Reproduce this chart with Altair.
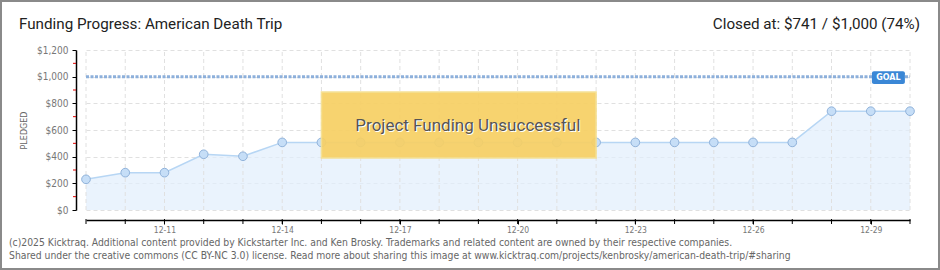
import altair as alt
import pandas as pd

# ---- data ----
days = list(range(9, 31))
pledged = [230, 280, 280, 418, 403, 507, 507, 507, 507, 507, 507, 507, 507, 507,
           507, 507, 507, 507, 507, 741, 741, 741]
label_days = [11, 14, 17, 20, 23, 26, 29]
y_major = [0, 200, 400, 600, 800, 1000, 1200]
y_minor = [100, 300, 500, 700, 900, 1100]
goal = 1000
title_text = "Funding Progress: American Death Trip"
closed_text = "Closed at:  $741 /  $1,000 (74%)"
banner_text = "Project Funding Unsuccessful"
footer1 = ("(c)2025 Kicktraq. Additional content provided by Kickstarter Inc. and Ken Brosky. "
           "Trademarks and related content are owned by their respective companies.")
footer2 = ("Shared under the creative commons (CC BY-NC 3.0) license. Read more about sharing "
           "this image at www.kicktraq.com/projects/kenbrosky/american-death-trip/#sharing")

df = pd.DataFrame({"day": days, "pledged": pledged})
minor_df = pd.DataFrame({"v": y_minor})

W, H = 824, 160
TF = "Roboto, sans-serif"

xscale = alt.Scale(domain=[9, 30], nice=False, zero=False)
yscale = alt.Scale(domain=[0, 1200], nice=False)

xaxis = alt.Axis(
    values=label_days, tickCount=50, offset=10, title=None, labelOverlap=False,
    labelExpr="'12-' + datum.value",
    labelFont="DejaVu Sans Condensed", labelFontSize=8.5, labelColor="#777",
    labelPadding=1, labelBaseline="top",
    tickColor="#000", tickSize=4, domainColor="#000", domainWidth=1.5,
    grid=False,
)
yaxis = alt.Axis(
    values=y_major, tickCount=50, offset=10, title="PLEDGED", labelOverlap=False,
    titleFont="DejaVu Sans", titleFontSize=8, titleColor="#666", titleFontWeight="normal",
    titlePadding=8, format="$,.0f",
    labelFont="DejaVu Sans Condensed", labelFontSize=10, labelColor="#777",
    labelPadding=4, tickColor="#000", tickSize=4, domainColor="#000", domainWidth=1.5,
    grid=True, gridColor="#e0e0e0", gridDash=[4, 3],
)

base = alt.Chart(df)

area = base.mark_area(color="#e1eefc", opacity=0.7).encode(
    x=alt.X("day:Q", scale=xscale, axis=xaxis),
    y=alt.Y("pledged:Q", scale=yscale, axis=yaxis),
)
vgrid = base.mark_rule(color="#e0e0e0", strokeDash=[4, 3]).encode(
    x=alt.X("day:Q", scale=xscale, axis=xaxis),
    y=alt.datum(0, scale=yscale, axis=yaxis), y2=alt.datum(1200))
xticks = base.mark_rule(color="#000", strokeWidth=1).encode(
    x=alt.X("day:Q", scale=xscale, axis=xaxis), y=alt.value(169), y2=alt.value(174))
yminor = alt.Chart(minor_df).mark_rule(color="#e00000", strokeWidth=1).encode(
    y=alt.Y("v:Q", scale=yscale, axis=yaxis), x=alt.value(-13), x2=alt.value(-10))
line = base.mark_line(color="#b7d6f4", strokeWidth=1.5).encode(
    x=alt.X("day:Q", scale=xscale, axis=xaxis), y=alt.Y("pledged:Q", scale=yscale, axis=yaxis))
points = base.mark_point(filled=True, fill="#c6def7", stroke="#90b2da", strokeWidth=1,
                         size=75, opacity=1).encode(
    x=alt.X("day:Q", scale=xscale, axis=xaxis), y=alt.Y("pledged:Q", scale=yscale, axis=yaxis))

one = alt.Data(values=[{"k": 1}])

goal_line = alt.Chart(one).mark_rule(color="#8db0db", strokeWidth=3, strokeDash=[3, 1.5]).encode(
    x=alt.datum(9, scale=xscale, axis=xaxis), x2=alt.datum(30),
    y=alt.datum(goal, scale=yscale, axis=yaxis))

goal_box = alt.Chart(one).mark_rect(fill="#3a87d6", cornerRadius=2).encode(
    x=alt.datum(29.03, scale=xscale, axis=xaxis), x2=alt.datum(29.87),
    y=alt.datum(1040, scale=yscale, axis=yaxis), y2=alt.datum(945))
goal_text = alt.Chart(one).mark_text(text="GOAL", color="white", fontSize=8, fontWeight="bold",
                                     font="DejaVu Sans").encode(
    x=alt.datum(29.45, scale=xscale, axis=xaxis), y=alt.datum(993, scale=yscale, axis=yaxis))

banner = alt.Chart(one).mark_rect(fill="#f7d065", opacity=0.93, stroke="#f5df90",
                                  strokeWidth=1.5).encode(
    x=alt.datum(15, scale=xscale, axis=xaxis), x2=alt.datum(22),
    y=alt.datum(885, scale=yscale, axis=yaxis), y2=alt.datum(390))
banner_shadow = alt.Chart(one).mark_text(text=banner_text, color="white", fontSize=17,
                                         font=TF).encode(
    x=alt.datum(18.76, scale=xscale, axis=xaxis), y=alt.datum(622, scale=yscale, axis=yaxis))
banner_txt = alt.Chart(one).mark_text(text=banner_text, color="#555", fontSize=17,
                                      font=TF).encode(
    x=alt.datum(18.73, scale=xscale, axis=xaxis), y=alt.datum(630, scale=yscale, axis=yaxis))

title = alt.Chart(one).mark_text(text=title_text, align="left", baseline="middle",
                                 fontSize=15.2, font=TF, color="#222").encode(
    x=alt.value(-67), y=alt.value(-26))
closed = alt.Chart(one).mark_text(text=closed_text, align="right", baseline="middle",
                                  fontSize=15.2, font=TF, color="#222").encode(
    x=alt.value(834), y=alt.value(-26))
f1 = alt.Chart(one).mark_text(text=footer1, align="left", baseline="middle",
                              fontSize=10.3, font="DejaVu Sans Condensed", color="#666").encode(
    x=alt.value(-77), y=alt.value(193))
f2 = alt.Chart(one).mark_text(text=footer2, align="left", baseline="middle",
                              fontSize=10.3, font="DejaVu Sans Condensed", color="#666").encode(
    x=alt.value(-77), y=alt.value(206))
border = alt.Chart(one).mark_rect(fill=None, stroke="#8a8a8a", strokeWidth=2).encode(
    x=alt.value(-85), x2=alt.value(853), y=alt.value(-49), y2=alt.value(219))

chart = alt.layer(
    area, vgrid, xticks, yminor, line, points, goal_line, goal_box, goal_text,
    banner, banner_shadow, banner_txt, title, closed, f1, f2, border
).properties(
    width=W, height=H,
    autosize=alt.AutoSizeParams(type="none"),
    padding={"left": 86, "top": 50, "right": 30, "bottom": 60},
    background="white",
).configure_view(stroke=None).configure_axis(labelOverlap=False)

chart.save("out.html", embed_options={"renderer": "svg", "actions": False})
